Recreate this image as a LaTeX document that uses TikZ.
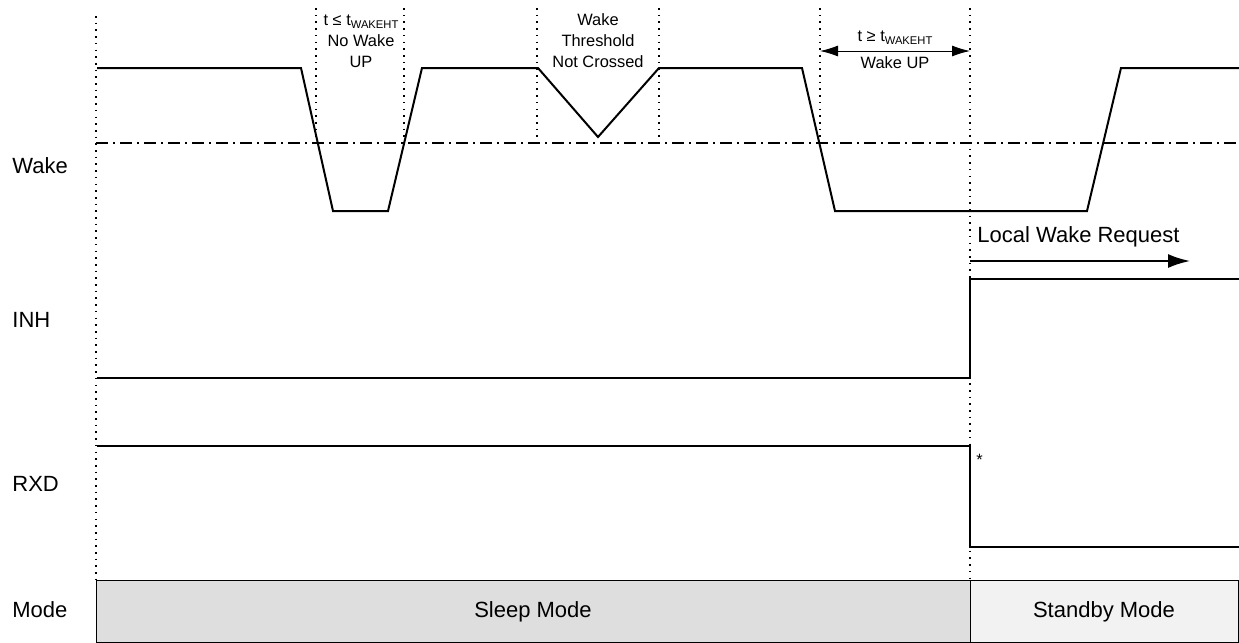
\documentclass[tikz,border=0pt]{standalone}
\usepackage{fontspec}
\setmainfont{Liberation Sans}
\usetikzlibrary{arrows.meta,positioning}
\def\tw{t\raisebox{-0.35ex}{\fontsize{5.6}{6.5}\selectfont WAKEHT}}

\begin{document}
\begin{tikzpicture}[%
        x=0.5pt, y=-0.5pt,
        every node/.style={inner sep=0pt, font=\fontsize{11}{13}\selectfont},
        note/.style={align=center, font=\fontsize{8.2}{10.5}\selectfont},
        sig/.style={line width=1pt},
        guide/.style={line width=0.8pt, dash pattern=on 0.8pt off 2.55pt},
        thr/.style={line width=1pt, dash pattern=on 6pt off 2.5pt on 1pt off 2.5pt},
        >={Latex[length=9pt,width=5.5pt]}
      ]
      \useasboundingbox (0,0) rectangle (1239,643);
      % mode bar
      \filldraw [fill=black!13, line width=0.5pt] (96,580) rectangle (970,642.5);
      \filldraw [fill=black!5, line width=0.5pt] (970,580) rectangle (1238.5,642.5);
      \node (sleep) at (533,612) {Sleep Mode};
      \node (standby) at (1104,612) {Standby Mode};
      % signal names
      \node [anchor=west] (wake) at (12,166) {Wake};
      \node [anchor=west] (inh) at (12,320) {INH};
      \node [anchor=west] (rxd) at (12,484) {RXD};
      \node [anchor=west] (mode) at (12,610) {Mode};
      % guides and threshold
      \draw [guide] (96,16) -- (96,580);
      \draw [guide] (970,8) -- (970,580);
      \foreach \x/\y in {316/143, 404/143, 537/137, 659/137, 820/143}
        \draw [guide] (\x,8) -- (\x,\y);
      \draw [thr] (96,143) -- (1239,143);
      % waveforms
      \draw [sig] (97,68) -- (301,68) -- (333,211) -- (388,211) -- (422,68)
        -- (538,68) -- (598,137) -- (659,68) -- (802,68) -- (835,211)
        -- (1087,211) -- (1121,68) -- (1239,68);
      \draw [sig] (97,378) -- (970,378) -- (970,279) -- (1239,279);
      \draw [sig] (97,446) -- (970,446) -- (970,547) -- (1239,547);
      % notes
      \node [note] (short) at (361,41) {t ≤ \tw\\No Wake\\UP};
      \node [note] (cross) at (598,41) {Wake\\Threshold\\Not Crossed};
      \coordinate (tl) at (820,51);
      \coordinate (tr) at (970,51);
      \draw [<->, line width=0.5pt] (tl) -- (tr);
      \node [note] (long) at (895,38) {t ≥ \tw};
      \node [note] (up) at (895,63) {Wake UP};
      \coordinate (lw0) at (970,261);
      \coordinate (lw1) at (1190,261);
      \draw [->, line width=1pt, >={Latex[length=11pt,width=7pt]}] (lw0) -- (lw1);
      \node [anchor=west] (req) at (977,237) {Local Wake Request};
      \node [note, anchor=west] (star) at (976,460) {*};
     \end{tikzpicture}
\end{document}
